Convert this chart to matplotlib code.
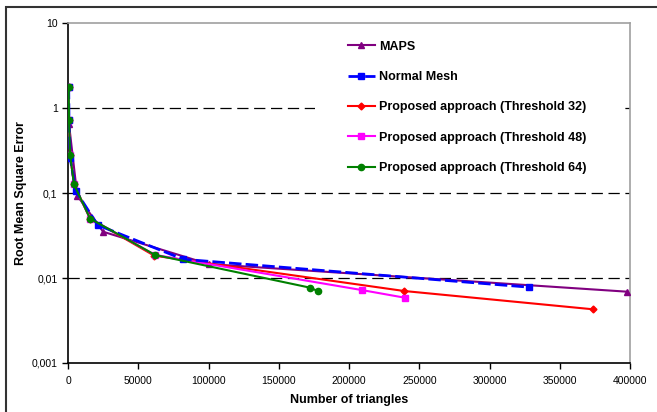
import matplotlib
matplotlib.use("Agg")
import matplotlib.pyplot as plt
from matplotlib.patches import Rectangle
from matplotlib.ticker import FixedLocator, FixedFormatter

plt.rcParams['font.family'] = ['Liberation Sans', 'DejaVu Sans']

maps_x = [700, 6600, 25000, 100000, 398000]
maps_y = [0.65, 0.093, 0.035, 0.0146, 0.0069]

nm_x = [500, 700, 1600, 5500, 21100, 82100, 328300]
nm_y = [1.78, 0.72, 0.256, 0.106, 0.042, 0.0166, 0.0078]

t32_x = [500, 700, 1500, 4300, 15700, 61400, 239300, 373900]
t32_y = [1.78, 0.72, 0.28, 0.126, 0.050, 0.0183, 0.00703, 0.00428]

t48_x = [500, 700, 1500, 4300, 15700, 61900, 209000, 239800]
t48_y = [1.78, 0.72, 0.28, 0.126, 0.050, 0.0187, 0.00722, 0.00586]

t64_x = [500, 700, 1500, 4300, 15700, 61900, 172200, 177700]
t64_y = [1.78, 0.72, 0.28, 0.126, 0.050, 0.0187, 0.0077, 0.00703]

labels = ["MAPS", "Normal Mesh", "Proposed approach (Threshold 32)",
          "Proposed approach (Threshold 48)", "Proposed approach (Threshold 64)"]
xticks = [0, 50000, 100000, 150000, 200000, 250000, 300000, 350000, 400000]
yticks = [0.001, 0.01, 0.1, 1, 10]
ytick_labels = ["0,001", "0,01", "0,1", "1", "10"]

fig = plt.figure(figsize=(6.57, 4.12), dpi=100)
ax = fig.add_axes([68/657, 1-363/412, (630-68)/657, (363-23)/412])

ax.set_yscale('log')
ax.set_xlim(0, 400000)
ax.set_ylim(0.001, 10)

for yv in [0.01, 0.1, 1]:
    ax.axhline(yv, color='black', lw=0.9, linestyle=(0, (9, 4.5)), zorder=1)

# white legend area covering gridline
ax.add_patch(Rectangle((315/657, 1-185/412), (622-315)/657, (185-28)/412, transform=fig.transFigure,
                       facecolor='white', edgecolor='none', zorder=2))

lw = 1.5
ax.plot(maps_x, maps_y, color='#800080', marker='^', ms=4.5, lw=lw, label=labels[0], zorder=3)
ax.plot(nm_x, nm_y, color='#0000FF', marker='s', ms=5, lw=2, linestyle=(0, (4.5, 1.5)), label=labels[1], zorder=4)
ax.plot(t32_x, t32_y, color='#FF0000', marker='D', ms=3.5, lw=lw, label=labels[2], zorder=3)
ax.plot(t48_x, t48_y, color='#FF00FF', marker='s', ms=4, lw=lw, label=labels[3], zorder=3)
ax.plot(t64_x, t64_y, color='#008000', marker='o', ms=4.5, lw=lw, label=labels[4], zorder=5)

ax.yaxis.set_major_locator(FixedLocator(yticks))
ax.yaxis.set_major_formatter(FixedFormatter(ytick_labels))
ax.yaxis.set_minor_locator(FixedLocator([]))
ax.set_xticks(xticks)
ax.set_xticklabels([str(v) for v in xticks])
ax.tick_params(axis='both', labelsize=7.5, direction='out', length=4, width=1, colors='black')
ax.tick_params(axis='x', pad=5)

for s in ['left', 'bottom']:
    ax.spines[s].set_color('black')
    ax.spines[s].set_linewidth(1.2)
for s in ['top', 'right']:
    ax.spines[s].set_color('#a0a0a0')
    ax.spines[s].set_linewidth(1.2)

ax.set_xlabel("Number of triangles", fontsize=9, fontweight='bold', labelpad=6)
ax.set_ylabel("Root Mean Square Error", fontsize=9, fontweight='bold', labelpad=3)

leg = ax.legend(loc='upper left', bbox_to_anchor=(340/657, 1-33/412), bbox_transform=fig.transFigure,
                frameon=False, prop={'size': 9, 'weight': 'bold'}, labelspacing=1.47,
                handlelength=2.2, handletextpad=0.35, borderpad=0.6, borderaxespad=0)
leg.set_zorder(10)

fig.patches.append(Rectangle((6/657, -0.05), 1.0, 1-7/412+0.05, transform=fig.transFigure,
                             fill=False, edgecolor='#333333', lw=1.5))

fig.savefig("out.png", dpi=100)
